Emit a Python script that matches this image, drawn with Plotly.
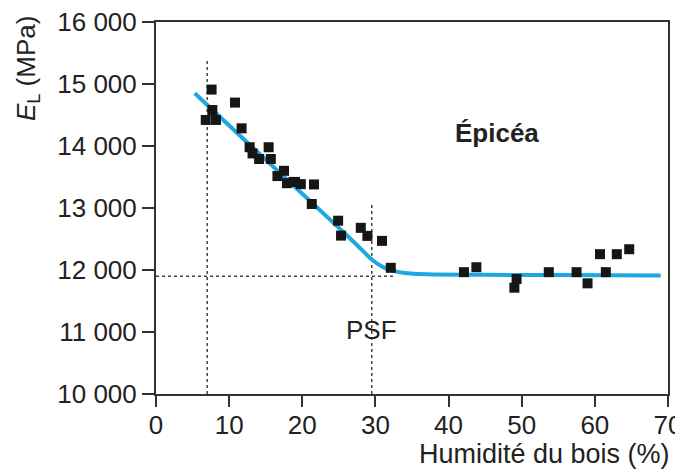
import plotly.graph_objects as go

# Measured points (humidity %, E_L MPa)
hum = [7.6, 10.8, 7.7, 6.8, 8.2, 11.7, 12.8, 15.4, 13.2, 14.1, 15.7, 17.5, 16.6, 17.9, 19.0,
       18.8, 19.8, 21.6, 21.3, 24.9, 25.3, 28.0, 28.9, 30.9, 32.1,
       42.1, 43.8, 49.3, 49.0, 53.7, 57.5, 59.0, 61.5, 60.7, 63.0, 64.7]
el = [14910, 14700, 14580, 14420, 14420, 14285, 13980, 13980, 13880, 13790, 13790, 13600, 13515, 13400, 13420,
      13420, 13385, 13380, 13065, 12795, 12555, 12680, 12550, 12470, 12035,
      11965, 12045, 11855, 11715, 11965, 11965, 11785, 11965, 12255, 12255, 12335]

# Fitted curve
fit_x = [5.3, 10, 15, 20, 25, 27.5, 29.5, 31, 32.5, 34, 37, 45, 55, 69]
fit_y = [14850, 14330, 13780, 13230, 12680, 12400, 12170, 12050, 11985, 11950, 11930, 11922, 11918, 11912]

# Reference values
h_ref = 7          # left dashed line
h_ref_top = 15390
psf = 29.5
psf_top = 13050
plateau = 11900
plateau_end = 32.7

x_ticks = [0, 10, 20, 30, 40, 50, 60, 70]
y_ticks = [10000, 11000, 12000, 13000, 14000, 15000, 16000]
y_labels = ["10 000", "11 000", "12 000", "13 000", "14 000", "15 000", "16 000"]

dash_col = "#444444"
fig = go.Figure()
fig.add_trace(go.Scatter(x=[h_ref, h_ref], y=[10000, h_ref_top], mode="lines",
                         line=dict(color=dash_col, width=1.5, dash="3px,3px"), hoverinfo="skip"))
fig.add_trace(go.Scatter(x=[psf, psf], y=[10000, psf_top], mode="lines",
                         line=dict(color=dash_col, width=1.5, dash="3px,3px"), hoverinfo="skip"))
fig.add_trace(go.Scatter(x=[0, plateau_end], y=[plateau, plateau], mode="lines",
                         line=dict(color=dash_col, width=1.5, dash="3px,3px"), hoverinfo="skip"))
fig.add_trace(go.Scatter(x=fit_x, y=fit_y, mode="lines", line=dict(color="#1aa9e1", width=4, shape="spline", smoothing=0.8)))
fig.add_trace(go.Scatter(x=hum, y=el, mode="markers",
                         marker=dict(symbol="square", size=10, color="#161616", line=dict(width=0))))

font = "Liberation Sans, Arial, sans-serif"
fig.update_layout(
    width=675, height=462,
    margin=dict(l=148, r=15, t=14, b=76),
    paper_bgcolor="white", plot_bgcolor="white",
    showlegend=False,
    font=dict(family=font, size=26, color="#222222"),
    xaxis=dict(range=[0, 70], tickvals=x_ticks, showgrid=False, zeroline=False,
               showline=True, linecolor="#333333", linewidth=2, mirror=True,
               ticks="outside", ticklen=11, tickwidth=1.5, tickcolor="#333333",
               ticklabelstandoff=-4, ticklabeloverflow="allow", automargin=False),
    yaxis=dict(range=[10000, 16000], tickvals=y_ticks, ticktext=y_labels, showgrid=False, zeroline=False,
               showline=True, linecolor="#333333", linewidth=2, mirror=True,
               ticks="outside", ticklen=12, tickwidth=1.5, tickcolor="#333333",
               ticklabeloverflow="allow", automargin=False),
    annotations=[
        dict(text="<b>Épicéa</b>", x=46.6, y=14210, xref="x", yref="y", showarrow=False,
             font=dict(size=26)),
        dict(text="PSF", x=psf, y=11030, xref="x", yref="y", showarrow=False, font=dict(size=26)),
        dict(text="Humidité du bois (%)", x=1.008, y=-0.16, xref="paper", yref="paper",
             xanchor="right", yanchor="middle", showarrow=False, font=dict(size=27)),
        dict(text="<i>E</i><sub>L</sub> (MPa)", x=-0.252, y=0.876, xref="paper", yref="paper",
             xanchor="center", yanchor="middle", showarrow=False, textangle=-90, font=dict(size=26)),
    ],
)
fig.write_html("out.html")
